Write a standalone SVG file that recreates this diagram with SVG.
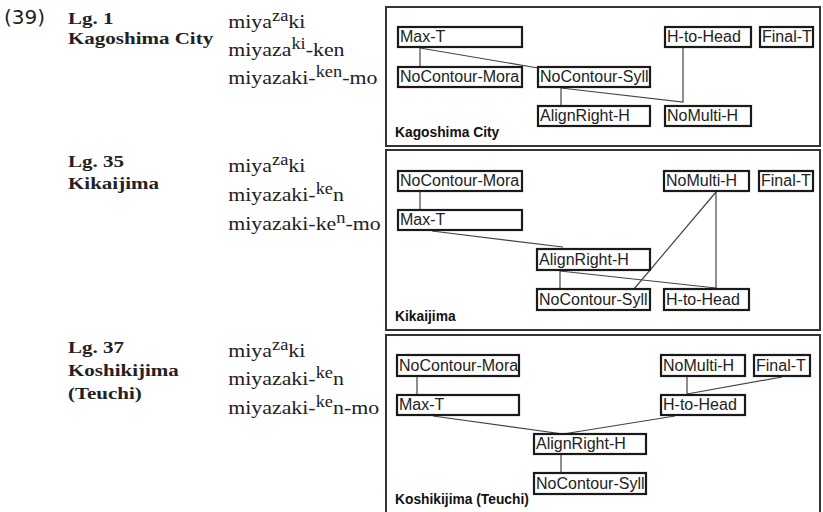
<svg xmlns="http://www.w3.org/2000/svg" width="823" height="512" viewBox="0 0 823 512">
<style>
.num{font-family:"DejaVu Sans",sans-serif;font-size:20px;fill:#222}
.lg{font-family:"Liberation Serif",serif;font-weight:bold;font-size:17.5px;fill:#222}
.ex{font-family:"Liberation Serif",serif;font-size:19px;fill:#222}
.sup{font-size:16px}
.frame{fill:#fff;stroke:#333;stroke-width:2}
.node rect{fill:#fff;stroke:#1a1a1a;stroke-width:2.2}
.node text{font-family:"Liberation Sans",sans-serif;font-size:16px;fill:#222}
.cap{font-family:"Liberation Sans",sans-serif;font-weight:bold;font-size:13.8px;fill:#111}
.conn path{fill:none;stroke:#444;stroke-width:1.2}
</style>
<rect width="823" height="512" fill="#fff"/>

<text class="num" x="4" y="24">(39)</text>

<g id="labels" transform="translate(68 0) scale(1.2 1)">
<text class="lg" x="0" y="24">Lg. 1</text>
<text class="lg" x="0" y="44">Kagoshima City</text>
<text class="lg" x="0" y="167">Lg. 35</text>
<text class="lg" x="0" y="189">Kikaijima</text>
<text class="lg" x="0" y="353">Lg. 37</text>
<text class="lg" x="0" y="376">Koshikijima</text>
<text class="lg" x="0" y="399">(Teuchi)</text>
</g>

<g id="examples" transform="translate(228.3 0) scale(1.15 1)">
<text class="ex" x="0" y="28">miya<tspan class="sup" dy="-7">za</tspan><tspan dy="7">ki</tspan></text>
<text class="ex" x="0" y="56">miyaza<tspan class="sup" dy="-7">ki</tspan><tspan dy="7">-ken</tspan></text>
<text class="ex" x="0" y="84">miyazaki-<tspan class="sup" dy="-7">ken</tspan><tspan dy="7">-mo</tspan></text>
<text class="ex" x="0" y="172">miya<tspan class="sup" dy="-7">za</tspan><tspan dy="7">ki</tspan></text>
<text class="ex" x="0" y="201">miyazaki-<tspan class="sup" dy="-7">ke</tspan><tspan dy="7">n</tspan></text>
<text class="ex" x="0" y="230">miyazaki-ke<tspan class="sup" dy="-7">n</tspan><tspan dy="7">-mo</tspan></text>
<text class="ex" x="0" y="357">miya<tspan class="sup" dy="-7">za</tspan><tspan dy="7">ki</tspan></text>
<text class="ex" x="0" y="385.5">miyazaki-<tspan class="sup" dy="-7">ke</tspan><tspan dy="7">n</tspan></text>
<text class="ex" x="0" y="414">miyazaki-<tspan class="sup" dy="-7">ke</tspan><tspan dy="7">n-mo</tspan></text>
</g>

<!-- Panel frames -->
<rect id="frame1" class="frame" x="386" y="7" width="434" height="139"/>
<rect id="frame2" class="frame" x="386" y="150" width="434" height="180"/>
<rect id="frame3" class="frame" x="386" y="335" width="434" height="180"/>

<text class="cap" x="395" y="137">Kagoshima City</text>
<text class="cap" x="395" y="321">Kikaijima</text>
<text class="cap" x="395" y="504">Koshikijima (Teuchi)</text>

<!-- Connectors -->
<g id="connectors" class="conn">
<path d="M420,47 V67"/>
<path d="M420,48 L538,68"/>
<path d="M561,87 V106"/>
<path d="M561,88 L683,102 V47"/>

<path d="M420,191 V210"/>
<path d="M432,231 L563,247"/>
<path d="M716,192 L634,289"/>
<path d="M716,192 V288"/>
<path d="M560,271 L716,288"/>
<path d="M560,271 V289"/>

<path d="M417,376 V395"/>
<path d="M687,376 V394"/>
<path d="M782,377 L687,394"/>
<path d="M433,416 L563,434"/>
<path d="M675,416 L563,434"/>
<path d="M561,455 V473"/>
</g>

<!-- Panel 1 nodes -->
<g id="p1-maxt" class="node"><rect x="398" y="27" width="124" height="20"/><text x="400" y="42">Max-T</text></g>
<g id="p1-ncmora" class="node"><rect x="398" y="67" width="124" height="20"/><text x="400" y="82">NoContour-Mora</text></g>
<g id="p1-ncsyll" class="node"><rect x="538" y="67" width="112" height="20"/><text x="540" y="82">NoContour-Syll</text></g>
<g id="p1-align" class="node"><rect x="538" y="106" width="112" height="20"/><text x="540" y="121">AlignRight-H</text></g>
<g id="p1-nomulti" class="node"><rect x="665" y="106" width="86" height="20"/><text x="667" y="121">NoMulti-H</text></g>
<g id="p1-htohead" class="node"><rect x="665" y="27" width="86" height="20"/><text x="667" y="42">H-to-Head</text></g>
<g id="p1-finalt" class="node"><rect x="760" y="27" width="53" height="20"/><text x="762" y="42">Final-T</text></g>

<!-- Panel 2 nodes -->
<g id="p2-ncmora" class="node"><rect x="398" y="171" width="124" height="20"/><text x="400" y="186">NoContour-Mora</text></g>
<g id="p2-maxt" class="node"><rect x="398" y="210" width="124" height="20"/><text x="400" y="225">Max-T</text></g>
<g id="p2-align" class="node"><rect x="537" y="249" width="113" height="21"/><text x="539" y="265">AlignRight-H</text></g>
<g id="p2-ncsyll" class="node"><rect x="537" y="289" width="113" height="21"/><text x="539" y="305">NoContour-Syll</text></g>
<g id="p2-htohead" class="node"><rect x="664" y="289" width="85" height="21"/><text x="666" y="305">H-to-Head</text></g>
<g id="p2-nomulti" class="node"><rect x="664" y="171" width="85" height="20"/><text x="666" y="186">NoMulti-H</text></g>
<g id="p2-finalt" class="node"><rect x="759" y="171" width="54" height="20"/><text x="761" y="186">Final-T</text></g>

<!-- Panel 3 nodes -->
<g id="p3-ncmora" class="node"><rect x="397" y="355" width="122" height="21"/><text x="399" y="371">NoContour-Mora</text></g>
<g id="p3-maxt" class="node"><rect x="397" y="395" width="122" height="20"/><text x="399" y="410">Max-T</text></g>
<g id="p3-nomulti" class="node"><rect x="661" y="355" width="84" height="21"/><text x="663" y="371">NoMulti-H</text></g>
<g id="p3-finalt" class="node"><rect x="754" y="355" width="56" height="21"/><text x="756" y="371">Final-T</text></g>
<g id="p3-htohead" class="node"><rect x="661" y="395" width="84" height="20"/><text x="663" y="410">H-to-Head</text></g>
<g id="p3-align" class="node"><rect x="534" y="434" width="112" height="20"/><text x="536" y="449">AlignRight-H</text></g>
<g id="p3-ncsyll" class="node"><rect x="534" y="473" width="112" height="21"/><text x="536" y="489">NoContour-Syll</text></g>
</svg>
